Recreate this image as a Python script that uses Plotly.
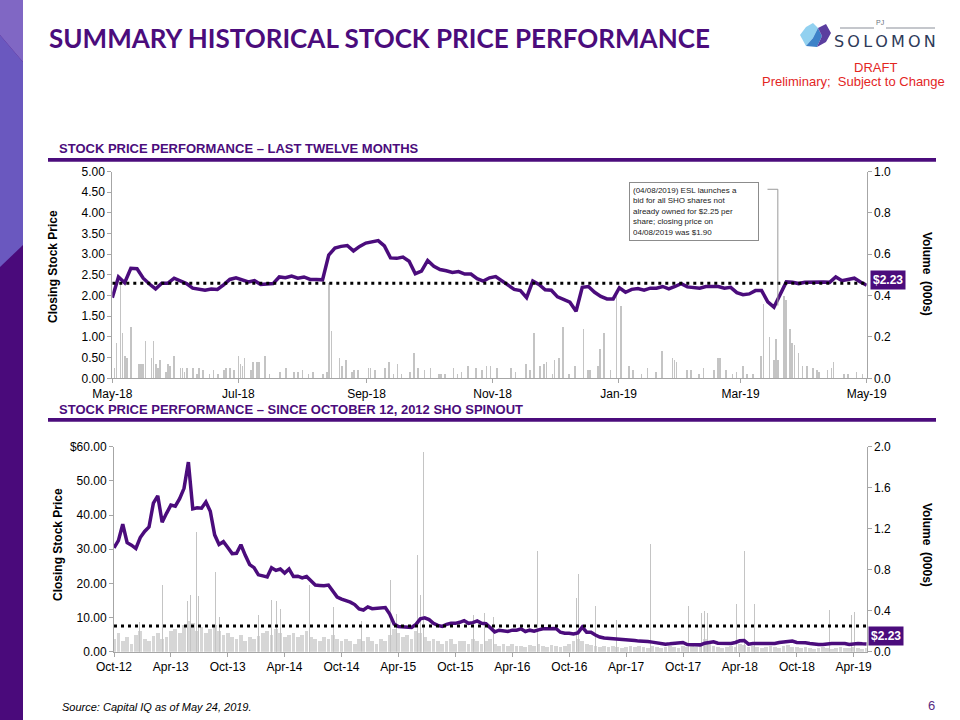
import plotly.graph_objects as go
import pandas as pd

FONT = "Liberation Sans, Arial, sans-serif"
PURPLE = "#4b0c7c"
AXIS = "#a6a6a6"
BAR = "#c4c4c4"
BASEBAR = "#d6d6d6"
RED = "#e3261f"

# ------------------------------------------------------------------
# DATA — last twelve months (closing price every ~3 days)
# ------------------------------------------------------------------
ltm_start, ltm_end = "2018-05-24", "2019-05-24"
ltm_price = [
    1.95, 2.45, 2.31, 2.66, 2.65, 2.42, 2.28, 2.16, 2.30, 2.30,
    2.42, 2.36, 2.29, 2.18, 2.16, 2.13, 2.16, 2.15, 2.26, 2.39,
    2.43, 2.38, 2.33, 2.36, 2.27, 2.28, 2.29, 2.45, 2.43, 2.47,
    2.42, 2.45, 2.39, 2.39, 2.38, 2.98, 3.15, 3.19, 3.21, 3.08,
    3.19, 3.27, 3.30, 3.33, 3.20, 2.91, 2.90, 2.93, 2.83, 2.53,
    2.59, 2.85, 2.71, 2.63, 2.60, 2.56, 2.58, 2.52, 2.52, 2.41,
    2.35, 2.43, 2.46, 2.35, 2.25, 2.15, 2.12, 1.95, 2.35, 2.27,
    2.14, 2.13, 1.97, 1.91, 1.84, 1.62, 2.20, 2.22, 2.08, 1.98,
    1.92, 1.92, 2.19, 2.08, 2.15, 2.17, 2.13, 2.18, 2.18, 2.22,
    2.16, 2.22, 2.29, 2.21, 2.20, 2.18, 2.22, 2.22, 2.22, 2.18,
    2.20, 2.07, 2.02, 2.04, 2.12, 2.12, 1.85, 1.72, 2.05, 2.33,
    2.32, 2.29, 2.32, 2.33, 2.32, 2.33, 2.32, 2.45, 2.36, 2.40,
    2.42, 2.33, 2.25,
]
ltm_vol_dates = [
    "2018-05-25", "2018-05-26", "2018-05-28", "2018-05-29", "2018-05-30", "2018-05-31",
    "2018-06-02", "2018-06-06", "2018-06-07", "2018-06-08", "2018-06-09", "2018-06-12",
    "2018-06-13", "2018-06-14", "2018-06-15", "2018-06-16", "2018-06-19", "2018-06-20",
    "2018-06-21", "2018-06-23", "2018-06-26", "2018-06-27", "2018-06-28", "2018-06-29",
    "2018-07-02", "2018-07-04", "2018-07-05", "2018-07-07", "2018-07-10", "2018-07-12",
    "2018-07-14", "2018-07-17", "2018-07-18", "2018-07-20", "2018-07-22", "2018-07-24",
    "2018-07-25", "2018-07-26", "2018-07-27", "2018-07-30", "2018-07-31", "2018-08-02",
    "2018-08-03", "2018-08-06", "2018-08-08", "2018-08-13", "2018-08-16", "2018-08-20",
    "2018-08-22", "2018-08-24", "2018-08-27", "2018-08-29", "2018-09-03", "2018-09-05",
    "2018-09-06", "2018-09-07", "2018-09-11", "2018-09-12", "2018-09-14", "2018-09-17",
    "2018-09-18", "2018-09-20", "2018-09-25", "2018-09-26", "2018-09-28", "2018-10-03",
    "2018-10-05", "2018-10-07", "2018-10-09", "2018-10-11", "2018-10-15", "2018-10-17",
    "2018-10-19", "2018-10-22", "2018-10-25", "2018-10-29", "2018-10-30", "2018-11-01",
    "2018-11-05", "2018-11-07", "2018-11-09", "2018-11-12", "2018-11-16", "2018-11-19",
    "2018-11-21", "2018-11-23", "2018-11-26", "2018-12-03", "2018-12-05", "2018-12-10",
    "2018-12-12", "2018-12-14", "2018-12-17", "2018-12-19", "2018-12-20", "2018-12-23",
    "2018-12-24", "2018-12-26", "2018-12-28", "2018-12-31", "2019-01-03", "2019-01-07",
    "2019-01-09", "2019-01-10", "2019-01-14", "2019-01-15", "2019-01-17", "2019-01-20",
    "2019-01-23", "2019-01-25", "2019-01-29", "2019-01-31", "2019-02-04", "2019-02-07",
    "2019-02-11", "2019-02-14", "2019-02-19", "2019-02-20", "2019-02-21", "2019-02-26",
    "2019-02-28", "2019-03-04", "2019-03-06", "2019-03-11", "2019-03-13", "2019-03-14",
    "2019-03-17", "2019-03-20", "2019-03-22", "2019-03-25", "2019-03-27", "2019-03-30",
    "2019-04-03", "2019-04-04", "2019-04-07", "2019-04-09", "2019-04-10", "2019-04-11",
    "2019-04-14", "2019-04-15", "2019-04-17", "2019-04-18", "2019-04-19", "2019-04-21",
    "2019-04-23", "2019-04-25", "2019-04-28", "2019-04-30", "2019-05-01", "2019-05-05",
    "2019-05-07", "2019-05-08", "2019-05-13", "2019-05-15", "2019-05-19", "2019-05-22",
]
ltm_vol = [
    0.05, 0.17, 0.46, 0.22, 0.11, 0.10,
    0.25, 0.07, 0.07, 0.07, 0.18, 0.10,
    0.18, 0.07, 0.05, 0.09, 0.03, 0.07,
    0.06, 0.11, 0.05, 0.05, 0.03, 0.05,
    0.05, 0.02, 0.05, 0.04, 0.02, 0.04,
    0.02, 0.04, 0.05, 0.05, 0.04, 0.11,
    0.07, 0.06, 0.10, 0.04, 0.08, 0.08,
    0.08, 0.11, 0.02, 0.03, 0.05, 0.03,
    0.03, 0.04, 0.02, 0.03, 0.02, 0.03,
    0.46, 0.23, 0.10, 0.06, 0.09, 0.03,
    0.04, 0.04, 0.05, 0.05, 0.04, 0.05,
    0.08, 0.02, 0.07, 0.02, 0.03, 0.12,
    0.05, 0.04, 0.05, 0.02, 0.02, 0.02,
    0.05, 0.02, 0.03, 0.06, 0.05, 0.04,
    0.06, 0.06, 0.05, 0.05, 0.03, 0.07,
    0.04, 0.22, 0.06, 0.07, 0.08, 0.02,
    0.09, 0.10, 0.25, 0.02, 0.06, 0.24,
    0.04, 0.04, 0.06, 0.14, 0.22, 0.04,
    0.40, 0.35, 0.06, 0.04, 0.02, 0.05,
    0.03, 0.13, 0.10, 0.09, 0.08, 0.04,
    0.04, 0.02, 0.05, 0.04, 0.10, 0.10,
    0.04, 0.02, 0.03, 0.06, 0.02, 0.02,
    0.11, 0.36, 0.20, 0.09, 0.19, 0.09,
    0.40, 0.38, 0.24, 0.17, 0.16, 0.12,
    0.06, 0.06, 0.05, 0.04, 0.03, 0.04,
    0.05, 0.08, 0.02, 0.02, 0.03, 0.02,
]
ltm_ref_level = 2.30
ltm_last = 2.23
ltm_tick_dates = ["2018-05-24", "2018-07-24", "2018-09-24", "2018-11-24",
                  "2019-01-24", "2019-03-24", "2019-05-24"]
ltm_tick_text = ["May-18", "Jul-18", "Sep-18", "Nov-18", "Jan-19", "Mar-19", "May-19"]
ltm_price_ticks = [0, 0.5, 1.0, 1.5, 2.0, 2.5, 3.0, 3.5, 4.0, 4.5, 5.0]
ltm_vol_ticks = [0.0, 0.2, 0.4, 0.6, 0.8, 1.0]
esl_note = ("(04/08/2019) ESL launches a<br>bid for all SHO shares not<br>"
            "already owned for $2.25 per<br>share; closing price on<br>04/08/2019 was $1.90")
esl_date, esl_close = "2019-04-11", 1.76

# ------------------------------------------------------------------
# DATA — since spinout (closing price every ~2 weeks)
# ------------------------------------------------------------------
spin_start, spin_end = "2012-10-12", "2019-05-24"
spin_price = [
    30.4, 32.5, 37.3, 31.9, 31.2, 30.2, 33.4, 35.2, 36.5, 43.5,
    45.6, 37.9, 40.5, 42.9, 42.6, 44.8, 47.8, 55.5, 41.8, 42.1,
    42.0, 43.8, 41.1, 34.2, 31.4, 32.2, 30.5, 28.7, 28.8, 31.3,
    28.2, 25.5, 24.6, 22.5, 22.2, 21.9, 24.6, 23.8, 24.2, 23.0,
    24.2, 22.0, 22.1, 21.6, 22.0, 20.9, 19.5, 19.4, 19.3, 19.5,
    17.8, 16.0, 15.4, 15.0, 14.5, 13.8, 12.5, 12.2, 13.1, 12.6,
    12.7, 12.8, 12.9, 11.0, 8.1, 7.4, 7.3, 7.2, 7.1, 8.0,
    9.6, 9.9, 9.4, 8.3, 7.7, 7.4, 8.0, 8.3, 8.3, 8.6,
    9.1, 8.3, 8.5, 9.0, 8.3, 8.2, 7.0, 5.8, 6.3, 6.1,
    5.9, 6.3, 6.3, 6.7, 5.9, 6.3, 6.0, 6.4, 6.7, 6.7,
    6.7, 6.8, 5.7, 5.4, 5.4, 5.2, 5.5, 7.2, 5.7, 5.7,
    4.9, 4.3, 4.0, 3.9, 3.9, 3.9, 3.8, 3.7, 3.5, 3.3,
    3.1, 3.1, 3.0, 2.8, 2.6, 2.4, 2.2, 2.3, 2.4, 2.6,
    2.7, 2.1, 2.0, 2.0, 2.0, 2.5, 2.8, 2.9, 2.5, 2.4,
    2.4, 2.4, 2.7, 3.2, 3.3, 2.2, 2.4, 2.4, 2.4, 2.4,
    2.4, 2.4, 2.7, 2.9, 3.1, 3.1, 2.7, 2.7, 2.6, 2.4,
    2.2, 2.1, 2.1, 2.3, 2.4, 2.4, 2.4, 2.4, 2.1, 2.3,
    2.4, 2.3, 2.23,
]
spin_base_vol = [
    0.12, 0.18, 0.10, 0.14, 0.08, 0.16, 0.20, 0.12, 0.10, 0.15, 0.18, 0.12, 0.14, 0.20,
    0.22, 0.18, 0.26, 0.30, 0.28, 0.20, 0.24, 0.18, 0.22, 0.26, 0.20, 0.16, 0.18, 0.14,
    0.12, 0.16, 0.10, 0.14, 0.12, 0.15, 0.18, 0.20, 0.16, 0.22, 0.18, 0.14, 0.16,
    0.18, 0.14, 0.16, 0.20, 0.14, 0.12, 0.10, 0.14, 0.12, 0.16, 0.12, 0.10, 0.12,
    0.10, 0.08, 0.12, 0.10, 0.14, 0.10, 0.08, 0.12, 0.10, 0.16, 0.22, 0.18, 0.14,
    0.16, 0.12, 0.20, 0.18, 0.14, 0.10, 0.12, 0.10, 0.08, 0.10, 0.12, 0.08, 0.10,
    0.10, 0.08, 0.12, 0.10, 0.08, 0.10, 0.12, 0.08, 0.06, 0.08, 0.06, 0.08, 0.06,
    0.06, 0.05, 0.07, 0.06, 0.08, 0.06, 0.05, 0.07, 0.06, 0.05, 0.06, 0.08, 0.10,
    0.12, 0.10, 0.08, 0.07, 0.06, 0.05, 0.06, 0.05, 0.06, 0.05, 0.04, 0.05, 0.06,
    0.05, 0.06, 0.05, 0.04, 0.06, 0.05, 0.04, 0.05, 0.06, 0.05, 0.04, 0.06, 0.05,
    0.06, 0.05, 0.08, 0.12, 0.10, 0.06, 0.05, 0.04, 0.05, 0.06, 0.05, 0.08, 0.07,
    0.05, 0.06, 0.05, 0.04, 0.05, 0.06, 0.05, 0.04, 0.06, 0.07, 0.05, 0.05, 0.04,
    0.05, 0.04, 0.03, 0.04, 0.05, 0.04, 0.03, 0.04, 0.05, 0.04, 0.04, 0.05, 0.04, 0.03, 0.04,
]
spin_spike_dates = [
    "2013-01-03", "2013-03-16", "2013-06-04", "2013-06-13", "2013-07-04", "2013-07-11",
    "2013-09-04", "2013-09-14", "2014-01-20", "2014-02-28", "2014-03-18", "2014-03-29",
    "2014-07-01", "2014-09-16", "2014-12-16", "2015-03-17", "2015-04-07", "2015-06-12",
    "2015-06-21", "2015-07-02", "2015-12-09", "2016-01-15", "2016-02-11", "2016-07-01",
    "2016-11-04", "2016-11-11", "2017-01-05", "2017-03-13", "2017-06-30", "2017-09-16",
    "2017-10-29", "2017-12-10", "2017-12-21", "2017-12-29", "2018-04-02", "2018-04-28",
    "2018-05-28", "2018-09-07", "2019-01-24", "2019-04-06", "2019-04-16",
]
spin_spike_vol = [
    0.29, 0.65, 0.49, 0.55, 1.17, 0.54,
    0.78, 0.34, 0.36, 0.50, 0.49, 0.42,
    0.65, 0.44, 0.30, 0.70, 0.37, 0.94,
    0.55, 1.95, 0.36, 0.38, 0.34, 0.98,
    0.52, 0.76, 0.45, 0.31, 1.05, 0.52,
    0.45, 0.38, 0.40, 0.38, 0.47, 0.98,
    0.47, 0.48, 0.41, 0.36, 0.39,
]
spin_ref_level = 7.5
spin_last = 2.23
spin_tick_dates = ["2012-10-12", "2013-04-12", "2013-10-12", "2014-04-12", "2014-10-12",
                   "2015-04-12", "2015-10-12", "2016-04-12", "2016-10-12", "2017-04-12",
                   "2017-10-12", "2018-04-12", "2018-10-12", "2019-04-12"]
spin_tick_text = ["Oct-12", "Apr-13", "Oct-13", "Apr-14", "Oct-14", "Apr-15", "Oct-15",
                  "Apr-16", "Oct-16", "Apr-17", "Oct-17", "Apr-18", "Oct-18", "Apr-19"]
spin_price_ticks = [0, 10, 20, 30, 40, 50, 60]
spin_price_text = ["0.00", "10.00", "20.00", "30.00", "40.00", "50.00", "$60.00"]
spin_vol_ticks = [0.0, 0.4, 0.8, 1.2, 1.6, 2.0]

# ------------------------------------------------------------------
W, H = 960, 720
DAY = 86400000


def px(x):
    return x / W


def py(y):
    return 1 - y / H


ltm_dates = pd.date_range(ltm_start, ltm_end, periods=len(ltm_price))
spin_dates = pd.date_range(spin_start, spin_end, periods=len(spin_price))

fig = go.Figure()

# --- top chart ---
fig.add_trace(go.Bar(x=pd.to_datetime(ltm_vol_dates), y=ltm_vol, xaxis="x", yaxis="y",
                     marker=dict(color=BAR, line=dict(width=0)), width=0.8 * DAY,
                     showlegend=False, hoverinfo="skip"))
fig.add_trace(go.Scatter(x=ltm_dates, y=ltm_price, xaxis="x", yaxis="y2", mode="lines",
                         line=dict(color=PURPLE, width=3.5), showlegend=False))
fig.add_trace(go.Scatter(x=[ltm_start, ltm_end], y=[ltm_ref_level, ltm_ref_level],
                         xaxis="x", yaxis="y2", mode="lines",
                         line=dict(color="black", width=3, dash="3px,4px"),
                         showlegend=False, hoverinfo="skip"))

# --- bottom chart ---
fig.add_trace(go.Bar(x=spin_dates, y=spin_base_vol, xaxis="x2", yaxis="y3",
                     marker=dict(color=BASEBAR, line=dict(width=0)), width=12 * DAY,
                     showlegend=False, hoverinfo="skip"))
fig.add_trace(go.Bar(x=pd.to_datetime(spin_spike_dates), y=spin_spike_vol, xaxis="x2", yaxis="y3",
                     marker=dict(color=BAR, line=dict(width=0)), width=3 * DAY,
                     showlegend=False, hoverinfo="skip"))
fig.add_trace(go.Scatter(x=spin_dates, y=spin_price, xaxis="x2", yaxis="y4", mode="lines",
                         line=dict(color=PURPLE, width=3.5), showlegend=False))
fig.add_trace(go.Scatter(x=[spin_start, spin_end], y=[spin_ref_level, spin_ref_level],
                         xaxis="x2", yaxis="y4", mode="lines",
                         line=dict(color="black", width=3, dash="3px,4px"),
                         showlegend=False, hoverinfo="skip"))

tickfont = dict(family=FONT, size=12, color="black")
common = dict(showgrid=False, zeroline=False, showline=True, linecolor=AXIS, linewidth=1,
              ticks="outside", ticklen=4, tickcolor=AXIS, tickfont=tickfont,
              automargin=False, fixedrange=True)

fig.update_layout(
    template="none",
    width=W, height=H, margin=dict(l=0, r=0, t=0, b=0, pad=0, autoexpand=False),
    paper_bgcolor="white", plot_bgcolor="rgba(0,0,0,0)",
    barmode="overlay", bargap=0, showlegend=False,
    xaxis=dict(domain=[px(112.3), px(866.7)], anchor="y", type="date",
               range=[ltm_start, ltm_end], tickvals=ltm_tick_dates, ticktext=ltm_tick_text,
               **common),
    yaxis=dict(domain=[py(378.3), py(171.5)], anchor="x", side="right", range=[0, 1.0],
               tickvals=ltm_vol_ticks, tickformat=".1f", **common),
    yaxis2=dict(overlaying="y", anchor="x", side="left", range=[0, 5],
                tickvals=ltm_price_ticks, tickformat=".2f", **common),
    xaxis2=dict(domain=[px(114), px(866.7)], anchor="y3", type="date",
                range=[spin_start, spin_end], tickvals=spin_tick_dates, ticktext=spin_tick_text,
                **common),
    yaxis3=dict(domain=[py(651.7), py(446.7)], anchor="x2", side="right", range=[0, 2.0],
                tickvals=spin_vol_ticks, tickformat=".1f", **common),
    yaxis4=dict(overlaying="y3", anchor="x2", side="left", range=[0, 60],
                tickvals=spin_price_ticks, ticktext=spin_price_text, **common),
)

shapes = []


def poly(points, color):
    path = "M " + " L ".join(f"{px(x):.5f},{py(y):.5f}" for x, y in points) + " Z"
    return dict(type="path", xref="paper", yref="paper", path=path,
                fillcolor=color, line=dict(width=0), layer="above")


# left decorative strip
shapes.append(poly([(0, 0), (23, 0), (23, 720), (0, 720)], "#4a0a7b"))
shapes.append(poly([(0, 35), (23, 62), (23, 245), (0, 267)], "#6a58bf"))
shapes.append(poly([(0, 0), (23, 0), (23, 62), (0, 35)], "#8067c4"))
# section underline bars
shapes.append(poly([(48, 158), (936, 158), (936, 161.8), (48, 161.8)], PURPLE))
shapes.append(poly([(48, 418), (936, 418), (936, 421.8), (48, 421.8)], PURPLE))
# logo gem
shapes.append(poly([(800, 35), (806, 27), (813, 23), (818, 28), (813, 38), (806, 46)], "#92d1f0"))
shapes.append(poly([(806, 46), (813, 38), (818, 28), (822, 36), (817, 47)], "#3d82c8"))
shapes.append(poly([(818, 28), (826, 24), (831, 33), (826, 42), (817, 47), (822, 36)], "#5b3e9f"))
# logo rules
shapes.append(dict(type="line", xref="paper", yref="paper", x0=px(840), x1=px(874),
                   y0=py(28), y1=py(28), line=dict(color="#8a8f99", width=1)))
shapes.append(dict(type="line", xref="paper", yref="paper", x0=px(886), x1=px(935),
                   y0=py(28), y1=py(28), line=dict(color="#8a8f99", width=1)))
# ESL connector
shapes.append(dict(type="line", xref="x", yref="y2", x0="2019-04-06", x1=esl_date,
                   y0=4.57, y1=4.57, line=dict(color="#9a9a9a", width=1)))
shapes.append(dict(type="line", xref="x", yref="y2", x0=esl_date, x1=esl_date,
                   y0=4.57, y1=esl_close, line=dict(color="#9a9a9a", width=1)))

ann = []


def text(x, y, s, size, color="black", xanchor="left", family=FONT, angle=0):
    ann.append(dict(xref="paper", yref="paper", x=px(x), y=py(y), text=s, showarrow=False,
                    xanchor=xanchor, yanchor="middle", textangle=angle,
                    font=dict(family=family, size=size, color=color)))


text(47, 38, "<b>SUMMARY HISTORICAL STOCK PRICE PERFORMANCE</b>", 26, PURPLE,
     family="Lato, Liberation Sans, sans-serif")
text(57, 149, "<b>STOCK PRICE PERFORMANCE – LAST TWELVE MONTHS</b>", 13, PURPLE)
text(57, 409, "<b>STOCK PRICE PERFORMANCE – SINCE OCTOBER 12, 2012 SHO SPINOUT</b>", 13, PURPLE)
text(53, 267, "<b>Closing Stock Price</b>", 12, angle=-90, xanchor="center")
text(58, 545, "<b>Closing Stock Price</b>", 12, angle=-90, xanchor="center")
text(927, 274, "<b>Volume  (000s)</b>", 12, angle=90, xanchor="center")
text(927, 545, "<b>Volume  (000s)</b>", 12, angle=90, xanchor="center")
text(875, 67, "DRAFT", 13, RED, xanchor="center")
text(947, 81, "Preliminary;  Subject to Change", 13, RED, xanchor="right")
text(60, 707, "<i>Source: Capital IQ as of May 24, 2019.</i>", 11)
text(937, 705, "6", 13, "#5a2d82", xanchor="right")
text(880, 22, "PJ", 7, "#6d7380", xanchor="center")
text(885, 41, "S\u2009O\u2009L\u2009O\u2009M\u2009O\u2009N", 16, "#2e3a59", xanchor="center",
     family="DejaVu Sans, sans-serif")

# ESL note box
ann.append(dict(xref="paper", yref="paper", x=px(629), y=py(182), xanchor="left", yanchor="top",
                text=esl_note, showarrow=False, align="left", bgcolor="white",
                bordercolor="#8c8c8c", borderwidth=1, borderpad=3, width=122,
                font=dict(family=FONT, size=8, color="#222222")))
# last price labels
ann.append(dict(xref="x", yref="y2", x=ltm_end, y=ltm_last, xanchor="left", yanchor="middle",
                xshift=3, yshift=6, text=f"<b>${ltm_last:.2f}</b>", showarrow=False,
                bgcolor=PURPLE, borderpad=2, font=dict(family=FONT, size=12, color="white")))
ann.append(dict(xref="x2", yref="y4", x=spin_end, y=spin_last, xanchor="left", yanchor="middle",
                xshift=1, yshift=8, text=f"<b>${spin_last:.2f}</b>", showarrow=False,
                bgcolor=PURPLE, borderpad=2, font=dict(family=FONT, size=12, color="white")))

fig.update_layout(shapes=shapes, annotations=ann)
fig.write_html("out.html", config={"displayModeBar": False, "staticPlot": True},
               post_script="document.body.style.margin='0';document.body.style.overflow='hidden';")
